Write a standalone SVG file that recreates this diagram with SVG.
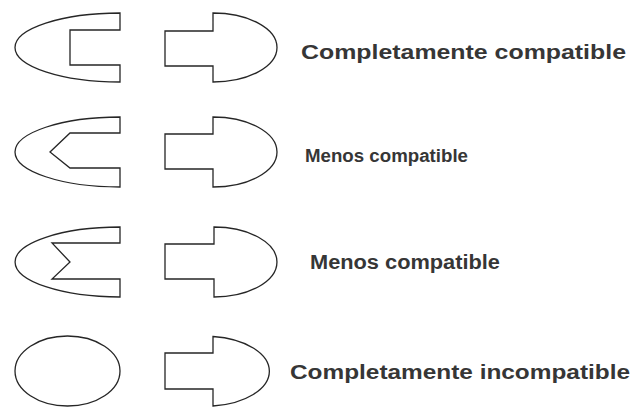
<svg xmlns="http://www.w3.org/2000/svg" width="643" height="410" viewBox="0 0 643 410">
  <style>
    .shape { fill: none; stroke: #262626; stroke-width: 1.3; stroke-linejoin: miter; }
    .label { font-family: "Liberation Sans", Arial, sans-serif; font-weight: bold; fill: #363636; }
  </style>
  <rect width="643" height="410" fill="#ffffff"/>

  <!-- Row 1: square socket + plug -->
  <g id="socket-1">
    <path class="shape" d="M120,13 L120,30 L70,30 L70,65 L120,65 L120,82 A105,34.5 0 0 1 120,13 Z"/>
  </g>
  <g id="plug-1">
    <path class="shape" d="M213,13 A64,34.5 0 0 1 213,82 L213,66 L165,66 L165,31 L213,31 Z"/>
  </g>
  <text id="label-1" class="label" x="301" y="59" font-size="20" textLength="325" lengthAdjust="spacingAndGlyphs">Completamente compatible</text>

  <!-- Row 2: chevron socket + plug -->
  <g id="socket-2">
    <path class="shape" d="M120,117 L120,133 L70,133 L50,152 L70,168 L120,168 L120,187 A105,35 0 0 1 120,117 Z"/>
  </g>
  <g id="plug-2">
    <path class="shape" d="M213,117 A64,35 0 0 1 213,187 L213,169 L165,169 L165,134 L213,134 Z"/>
  </g>
  <text id="label-2" class="label" x="305" y="162" font-size="17.5" textLength="163" lengthAdjust="spacingAndGlyphs">Menos compatible</text>

  <!-- Row 3: zigzag socket + plug -->
  <g id="socket-3">
    <path class="shape" d="M120,227 L120,243 L52,243 L70,262 L52,279 L120,279 L120,297 A105,35 0 0 1 120,227 Z"/>
  </g>
  <g id="plug-3">
    <path class="shape" d="M214,227 A63,35 0 0 1 214,297 L214,279 L165,279 L165,244 L214,244 Z"/>
  </g>
  <text id="label-3" class="label" x="310" y="269" font-size="19.5" textLength="190" lengthAdjust="spacingAndGlyphs">Menos compatible</text>

  <!-- Row 4: round socket + plug -->
  <g id="socket-4">
    <ellipse class="shape" cx="67.5" cy="371" rx="52.5" ry="35"/>
  </g>
  <g id="plug-4">
    <path class="shape" d="M213,336.5 A64,35 0 0 1 213,406 L213,389 L165,389 L165,353 L213,353 Z"/>
  </g>
  <text id="label-4" class="label" x="290" y="379" font-size="21" textLength="340" lengthAdjust="spacingAndGlyphs">Completamente incompatible</text>
</svg>
